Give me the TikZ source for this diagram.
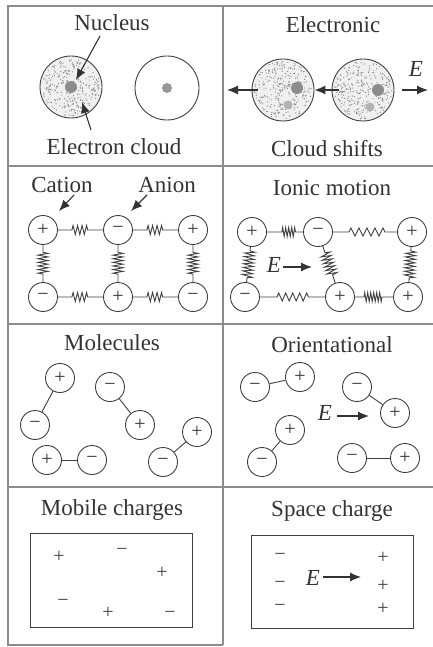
\documentclass[tikz,border=0pt]{standalone}
\usepackage{fontspec}
\setmainfont{Liberation Serif}
\usetikzlibrary{arrows.meta,decorations.pathmorphing}

\tikzset{
  frame/.style={draw=black!45, line width=1.6pt},
  heading/.style={font=\fontsize{23}{26}\selectfont, text=black!80, inner sep=0pt, anchor=base},
  atomcloud/.style={circle, draw=black!75, line width=0.9pt, fill=black!6, minimum size=62pt, inner sep=0pt},
  ion/.style={circle, draw=black!75, line width=0.9pt, minimum size=29pt, inner sep=0pt,
    font=\fontsize{20}{20}\selectfont, text=black!80},
  bond/.style={draw=black!75, line width=0.9pt},
  spring/.style n args={4}{bond, decorate, decoration={zigzag, amplitude=#2,
    segment length=#1, pre length=#3, post length=#4}},
  pointer/.style={draw=black!80, line width=1.1pt, -{Latex[length=11pt,width=9pt]}},
  charge/.style={font=\fontsize{20}{20}\selectfont, text=black!75, inner sep=0pt},
}

% random stipple for the electron clouds
\newcommand\speckle[4]{%
  \pgfmathsetseed{#4}
  \foreach \k in {1,...,300}{
    \pgfmathsetmacro\rr{#3*sqrt(rnd)}
    \pgfmathsetmacro\aa{360*rnd}
    \fill[black!50] (#1,#2) ++(\aa:\rr) circle (0.6);
  }}

\begin{document}
\begin{tikzpicture}[x=1pt, y=-1pt]
\useasboundingbox (0,0) rectangle (433,647);

% frame
\draw[frame] (433,6) -- (8,6) -- (8,645) -- (223,645);
\draw[frame] (223,6) -- (223,645);
\foreach \y in {166,324,487} \draw[frame] (8,\y) -- (433,\y);

% ---- electronic, no field
\node[heading] (nuclbl) at (112,31) {Nucleus};
\node[atomcloud] (atomA) at (71,87) {};
\speckle{71}{87}{29}{11}
\fill[black!45] (atomA.center) circle (6);
\node[circle, draw=black!75, line width=0.9pt, minimum size=64pt] (atomB) at (167,88) {};
\fill[black!40] (atomB.center) circle (5);
\node[heading] (cloudlbl) at (114,155) {Electron cloud};
\coordinate (nuctail) at (100,36);
\coordinate (nuchead) at (76,80);
\coordinate (cloudtail) at (91,130);
\coordinate (cloudhead) at (82,102);
\draw[pointer] (nuctail) -- (nuchead);
\draw[pointer] (cloudtail) -- (cloudhead);

% ---- electronic, with field
\node[heading] (eleclbl) at (333,33) {Electronic};
\node[atomcloud] (shiftA) at (283,90) {};
\speckle{283}{90}{29}{23}
\fill[black!45] (297,88) circle (6);
\fill[black!30] (288,105) circle (4.5);
\node[atomcloud] (shiftB) at (363,90) {};
\speckle{363}{90}{29}{37}
\fill[black!45] (378,90) circle (6);
\fill[black!30] (370,107) circle (4.5);
\coordinate (leftend) at (227,90);
\coordinate (fieldtail) at (402,90);
\coordinate (fieldtip) at (428,90);
\draw[pointer] ([xshift=6pt]shiftA.west) -- (leftend);
\draw[pointer] ([xshift=7pt]shiftB.west) -- (shiftA.east);
\draw[pointer] (fieldtail) -- (fieldtip);
\node[heading] (efield) at (416,77) {\textit{E}};
\node[heading] (shiftlbl) at (327,157) {Cloud shifts};

% ---- ionic lattice
\node[heading] (catlbl) at (62,192) {Cation};
\node[heading] (anlbl) at (167,192) {Anion};
\node[ion] (ca1) at (43,230) {+};
\node[ion] (an1) at (118,230) {−};
\node[ion] (ca2) at (193,230) {+};
\node[ion] (an2) at (43,297) {−};
\node[ion] (ca3) at (118,297) {+};
\node[ion] (an3) at (193,297) {−};
\draw[spring={4.5pt}{4.5pt}{14pt}{14pt}] (ca1) -- (an1);
\draw[spring={4.5pt}{4.5pt}{14pt}{14pt}] (an1) -- (ca2);
\draw[spring={4.5pt}{4.5pt}{14pt}{14pt}] (an2) -- (ca3);
\draw[spring={4.5pt}{4.5pt}{14pt}{14pt}] (ca3) -- (an3);
\draw[spring={3.6pt}{5pt}{7.5pt}{7.5pt}] (ca1) -- (an2);
\draw[spring={3.6pt}{5pt}{7.5pt}{7.5pt}] (an1) -- (ca3);
\draw[spring={3.6pt}{5pt}{7.5pt}{7.5pt}] (ca2) -- (an3);
\coordinate (cattail) at (74,195);
\coordinate (cattip) at (59,211);
\coordinate (antail) at (147,195);
\coordinate (antip) at (131,211);
\draw[pointer] (cattail) -- (cattip);
\draw[pointer] (antail) -- (antip);

% ---- ionic motion
\node[heading] (ioniclbl) at (332,195) {Ionic motion};
\node[ion] (ip1) at (252,232) {+};
\node[ion] (ip2) at (318,232) {−};
\node[ion] (ip3) at (412,232) {+};
\node[ion] (iq1) at (245,297) {−};
\node[ion] (iq2) at (340,297) {+};
\node[ion] (iq3) at (408,297) {+};
\draw[spring={3pt}{4.5pt}{15pt}{7pt}] (ip1) -- (ip2);
\draw[spring={8pt}{4pt}{16pt}{12pt}] (ip2) -- (ip3);
\draw[spring={3.6pt}{5pt}{4pt}{4pt}] (ip1) -- (iq1);
\draw[spring={3.6pt}{5pt}{7pt}{7pt}] (ip2) -- (iq2);
\draw[spring={3.6pt}{5pt}{4pt}{4pt}] (ip3) -- (iq3);
\draw[spring={7pt}{4pt}{17pt}{15pt}] (iq1) -- (iq2);
\draw[spring={3pt}{4.5pt}{9pt}{11pt}] (iq2) -- (iq3);
\node[heading] (ionE) at (274,272) {\textit{E}};
\coordinate (ionEtip) at (312,267);
\draw[pointer] ([xshift=2pt]ionE.east |- ionEtip) -- (ionEtip);

% ---- molecules, random
\node[heading] (mollbl) at (112,350) {Molecules};
\node[ion] (mp1) at (60,378) {+};
\node[ion] (mn1) at (35,425) {−};
\node[ion] (mn2) at (110,387) {−};
\node[ion] (mp2) at (140,425) {+};
\node[ion] (mp3) at (47,460) {+};
\node[ion] (mn3) at (92,460) {−};
\node[ion] (mp4) at (197,432) {+};
\node[ion] (mn4) at (163,462) {−};
\draw[bond] (mp1) -- (mn1);
\draw[bond] (mn2) -- (mp2);
\draw[bond] (mp3) -- (mn3);
\draw[bond] (mp4) -- (mn4);

% ---- molecules, aligned
\node[heading] (orientlbl) at (332,352) {Orientational};
\node[ion] (on1) at (255,387) {−};
\node[ion] (op1) at (300,377) {+};
\node[ion] (on2) at (357,387) {−};
\node[ion] (op2) at (395,413) {+};
\node[ion] (op3) at (290,430) {+};
\node[ion] (on3) at (262,462) {−};
\node[ion] (on4) at (352,458) {−};
\node[ion] (op4) at (405,458) {+};
\draw[bond] (on1) -- (op1);
\draw[bond] (on2) -- (op2);
\draw[bond] (op3) -- (on3);
\draw[bond] (on4) -- (op4);
\node[heading] (orientE) at (325,420) {\textit{E}};
\coordinate (orientEtip) at (369,416);
\draw[pointer] ([xshift=5pt]orientE.east |- orientEtip) -- (orientEtip);

% ---- mobile charges
\node[heading] (mobilelbl) at (112,515) {Mobile charges};
\draw[bond] (30,533) rectangle (192,627);
\node[charge] (mc1) at (59,557) {+};
\node[charge] (mc2) at (122,552) {−};
\node[charge] (mc3) at (162,573) {+};
\node[charge] (mc4) at (63,603) {−};
\node[charge] (mc5) at (108,613) {+};
\node[charge] (mc6) at (170,615) {−};

% ---- space charge
\node[heading] (spacelbl) at (332,516) {Space charge};
\draw[bond] (251,535) rectangle (413,628);
\foreach \y [count=\i] in {557,585,608} {
  \node[charge] (sn\i) at (280,\y) {−};
  \node[charge] (sp\i) at (383,\y+1) {+};
}
\node[heading] (spaceE) at (313,585) {\textit{E}};
\coordinate (spaceEtip) at (361,577);
\draw[pointer] ([xshift=3pt]spaceE.east |- spaceEtip) -- (spaceEtip);
\end{tikzpicture}
\end{document}
